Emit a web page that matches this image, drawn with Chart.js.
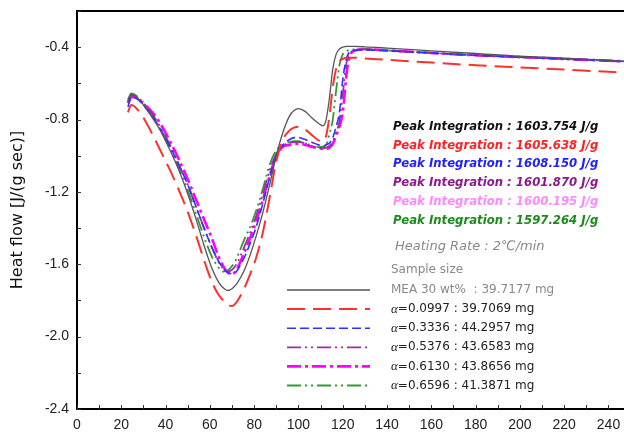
<!DOCTYPE html>
<html><head><meta charset="utf-8">
<script src="https://cdn.jsdelivr.net/npm/chart.js@4.4.0/dist/chart.umd.min.js"></script>
<style>html,body{margin:0;padding:0;background:#fff;}#wrap{width:624px;height:439px;}</style>
</head><body><div id="wrap"><canvas id="c" width="624" height="439"></canvas></div>
<script>
// Temperature (°C) sample points shared by all curves
const temps = [23, 24.5, 27, 30, 34, 38, 42, 46, 50, 54, 58, 61, 64, 66, 68, 70, 72, 74, 76, 78, 81, 84, 87, 90, 93, 96, 98, 100, 103, 106, 109, 111, 112.5, 114, 115.5, 117, 118.5, 120, 122, 125, 130, 140, 160, 180, 200, 220, 247];

// Heat flow [J/(g sec)] per sample
const mea30 = [-0.70, -0.66, -0.675, -0.72, -0.79, -0.87, -0.97, -1.08, -1.21, -1.36, -1.52, -1.625, -1.70, -1.73, -1.745, -1.735, -1.71, -1.67, -1.62, -1.555, -1.44, -1.31, -1.16, -1.00, -0.87, -0.78, -0.75, -0.74, -0.755, -0.79, -0.82, -0.835, -0.80, -0.68, -0.52, -0.44, -0.41, -0.40, -0.396, -0.396, -0.398, -0.405, -0.42, -0.435, -0.45, -0.46, -0.478];
const a0997 = [-0.76, -0.72, -0.74, -0.79, -0.88, -0.98, -1.08, -1.19, -1.31, -1.45, -1.60, -1.70, -1.77, -1.80, -1.825, -1.83, -1.81, -1.77, -1.72, -1.66, -1.56, -1.42, -1.23, -1.03, -0.91, -0.86, -0.845, -0.84, -0.855, -0.885, -0.915, -0.92, -0.89, -0.78, -0.62, -0.52, -0.48, -0.465, -0.458, -0.458, -0.462, -0.47, -0.485, -0.50, -0.512, -0.524, -0.54];
const a3336 = [-0.73, -0.68, -0.685, -0.72, -0.78, -0.86, -0.95, -1.05, -1.16, -1.29, -1.42, -1.51, -1.585, -1.62, -1.645, -1.652, -1.64, -1.60, -1.55, -1.49, -1.39, -1.26, -1.12, -1.00, -0.94, -0.91, -0.90, -0.90, -0.91, -0.925, -0.94, -0.945, -0.94, -0.93, -0.90, -0.84, -0.76, -0.58, -0.45, -0.418, -0.415, -0.42, -0.432, -0.445, -0.455, -0.465, -0.48];
const a5376 = [-0.70, -0.665, -0.675, -0.71, -0.77, -0.85, -0.94, -1.05, -1.16, -1.29, -1.42, -1.51, -1.59, -1.625, -1.64, -1.63, -1.60, -1.55, -1.49, -1.43, -1.33, -1.21, -1.08, -0.99, -0.945, -0.93, -0.925, -0.925, -0.93, -0.945, -0.955, -0.958, -0.955, -0.945, -0.92, -0.87, -0.81, -0.66, -0.47, -0.42, -0.412, -0.418, -0.432, -0.445, -0.455, -0.465, -0.478];
const a6130 = [-0.71, -0.675, -0.68, -0.71, -0.76, -0.83, -0.92, -1.02, -1.13, -1.25, -1.37, -1.46, -1.56, -1.61, -1.645, -1.655, -1.63, -1.58, -1.52, -1.46, -1.36, -1.24, -1.11, -1.00, -0.95, -0.94, -0.935, -0.935, -0.94, -0.95, -0.958, -0.962, -0.962, -0.955, -0.935, -0.89, -0.84, -0.76, -0.52, -0.42, -0.412, -0.418, -0.432, -0.445, -0.455, -0.465, -0.478];
const a6596 = [-0.69, -0.655, -0.67, -0.71, -0.78, -0.86, -0.96, -1.07, -1.19, -1.33, -1.47, -1.56, -1.62, -1.64, -1.635, -1.61, -1.57, -1.51, -1.45, -1.40, -1.30, -1.18, -1.05, -0.97, -0.94, -0.925, -0.92, -0.92, -0.93, -0.945, -0.952, -0.95, -0.94, -0.88, -0.80, -0.64, -0.50, -0.44, -0.42, -0.412, -0.41, -0.418, -0.432, -0.445, -0.455, -0.465, -0.478];

// Legend / annotation texts
const sampleNames = ['MEA 30 wt%', '0.0997', '0.3336', '0.5376', '0.6130', '0.6596'];
const sampleMasses = ['39.7177', '39.7069', '44.2957', '43.6583', '43.8656', '41.3871'];
const peakValues = ['1603.754', '1605.638', '1608.150', '1601.870', '1600.195', '1597.264'];
const peakColors = ['#111111', '#ff2020', '#2020ff', '#8a1a8a', '#ff88ff', '#1a8a1a'];

// Axis settings
const xMin = 0, xMax = 247, xStep = 10, xLabelEvery = 20;
const yMin = -2.4, yMax = -0.2, yStep = 0.2;

const seriesValues = [mea30, a0997, a3336, a5376, a6130, a6596];
const seriesStyles = [
  {color: '#555555', width: 1.3, dash: []},
  {color: '#ff3030', width: 2.0, dash: [18, 8]},
  {color: '#3030ff', width: 1.6, dash: [9, 4]},
  {color: '#993399', width: 1.8, dash: [14, 4, 2, 4, 2, 4]},
  {color: '#ff00ff', width: 2.6, dash: [14, 4, 3, 4]},
  {color: '#339933', width: 1.8, dash: [14, 4, 2, 4, 2, 4]}
];

const datasets = seriesValues.map((vals, i) => ({
  label: sampleNames[i],
  data: temps.map((t, k) => ({x: t, y: vals[k]})),
  borderColor: seriesStyles[i].color,
  borderWidth: seriesStyles[i].width,
  borderDash: seriesStyles[i].dash,
  pointRadius: 0,
  fill: false,
  cubicInterpolationMode: 'monotone'
}));

const FONT = '"Liberation Sans", Arial, sans-serif';
const WIDE = '"DejaVu Sans", sans-serif';

const decor = {
  id: 'decor',
  afterDraw(chart) {
    const ctx = chart.ctx;
    const ca = chart.chartArea;
    const xs = chart.scales.x, ys = chart.scales.y;
    ctx.save();
    // top frame line
    ctx.strokeStyle = '#000'; ctx.lineWidth = 2;
    ctx.beginPath(); ctx.moveTo(ca.left, ca.top); ctx.lineTo(ca.right, ca.top); ctx.stroke();
    // inward tick marks
    ctx.lineWidth = 1; ctx.strokeStyle = '#333';
    xs.ticks.forEach(t => {
      const px = Math.round(xs.getPixelForValue(t.value)) + 0.5;
      ctx.beginPath(); ctx.moveTo(px, ca.bottom); ctx.lineTo(px, ca.bottom - 4); ctx.stroke();
    });
    ys.ticks.forEach(t => {
      const py = Math.round(ys.getPixelForValue(t.value)) + 0.5;
      ctx.beginPath(); ctx.moveTo(ca.left, py); ctx.lineTo(ca.left + 4, py); ctx.stroke();
    });
    // peak integration texts
    ctx.textBaseline = 'middle'; ctx.textAlign = 'left';
    ctx.font = 'italic bold 11.7px ' + WIDE;
    peakValues.forEach((v, i) => {
      ctx.fillStyle = peakColors[i];
      ctx.fillText('Peak Integration : ' + v + ' J/g', 393, 127 + i * 18.7);
    });
    ctx.font = 'italic 13px ' + WIDE;
    ctx.fillStyle = '#888';
    ctx.fillText('Heating Rate : 2\u2103/min', 395, 247);
    // legend
    ctx.font = '12px ' + WIDE;
    ctx.fillStyle = '#888';
    ctx.fillText('Sample size', 391, 270);
    chart.data.datasets.forEach((ds, i) => {
      const y = 290 + i * 19.1;
      ctx.save();
      ctx.strokeStyle = ds.borderColor; ctx.lineWidth = ds.borderWidth;
      ctx.setLineDash(ds.borderDash);
      ctx.beginPath(); ctx.moveTo(287, y); ctx.lineTo(370, y); ctx.stroke();
      ctx.restore();
      if (i === 0) {
        ctx.font = '12px ' + WIDE; ctx.fillStyle = '#888';
        ctx.fillText(sampleNames[0] + '  : ' + sampleMasses[0] + ' mg', 391, y);
      } else {
        ctx.font = 'italic 13px "Liberation Serif", serif'; ctx.fillStyle = '#222';
        ctx.fillText('\u03b1', 391, y);
        const w = ctx.measureText('\u03b1').width;
        ctx.font = '12px ' + WIDE;
        ctx.fillText('=' + sampleNames[i] + ' : ' + sampleMasses[i] + ' mg', 391 + w, y);
      }
    });
    ctx.restore();
  }
};

new Chart(document.getElementById('c'), {
  type: 'line',
  data: {datasets},
  options: {
    responsive: false,
    animation: false,
    layout: {padding: {top: 11, right: 0, left: 0, bottom: 0}},
    plugins: {legend: {display: false}, tooltip: {enabled: false}},
    scales: {
      x: {
        type: 'linear', min: xMin, max: xMax,
        grid: {display: false, drawTicks: false},
        border: {display: true, color: '#000', width: 2},
        ticks: {
          stepSize: xStep, includeBounds: false, autoSkip: false, maxRotation: 0,
          padding: 8, color: '#222', font: {size: 14, family: FONT},
          callback: v => (Math.round(v) % xLabelEvery === 0 ? String(Math.round(v)) : '')
        },
        afterFit: s => { s.height = 30; s.paddingLeft = 0; s.paddingRight = 0; }
      },
      y: {
        type: 'linear', min: yMin, max: yMax,
        grid: {display: false, drawTicks: false},
        border: {display: true, color: '#000', width: 2},
        ticks: {
          stepSize: yStep, includeBounds: false, autoSkip: false,
          padding: 8, color: '#222', font: {size: 14, family: FONT},
          callback: v => { const k = Math.round(v * 10); return (k % 4 === 0) ? (k / 10).toFixed(1) : ''; }
        },
        title: {display: true, text: 'Heat flow [J/(g sec)]', color: '#111', font: {size: 16, family: WIDE}, padding: {top: 8, bottom: 0}},
        afterFit: s => { s.width = 77; s.paddingTop = 0; s.paddingBottom = 0; }
      }
    }
  },
  plugins: [decor]
});
</script>
</body></html>
